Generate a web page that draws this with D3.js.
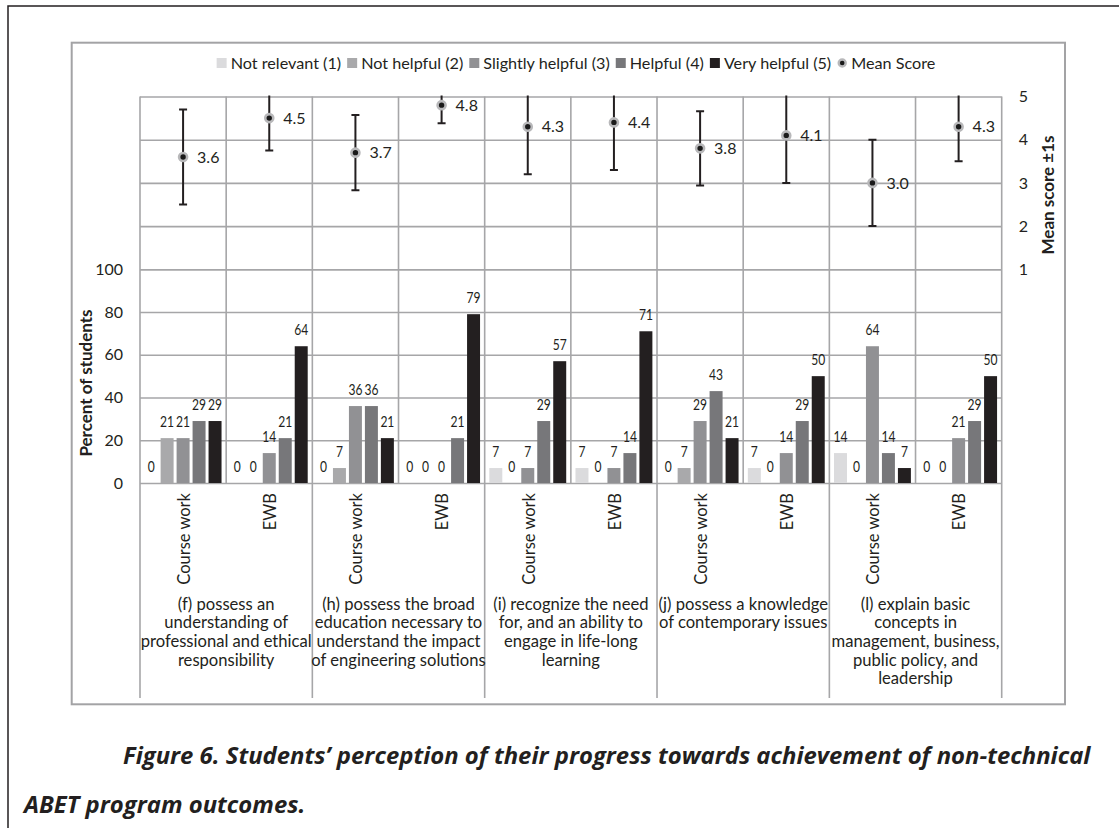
<!DOCTYPE html>
<html>
<head>
<meta charset="utf-8">
<script src="https://cdn.jsdelivr.net/npm/d3@7"></script>
<style>
  body { margin: 0; background: #fff; }
  svg text { font-family: Lato, "Open Sans", sans-serif; fill: #231f20; }
</style>
</head>
<body>
<div id="viz"></div>
<script>
// data
var outcomes = [
  ["(f) possess an", "understanding of", "professional and ethical", "responsibility"],
  ["(h) possess the broad", "education necessary to", "understand the impact", "of engineering solutions"],
  ["(i) recognize the need", "for, and an ability to", "engage in life-long", "learning"],
  ["(j) possess a knowledge", "of contemporary issues"],
  ["(l) explain basic", "concepts in", "management, business,", "public policy, and", "leadership"]
];
var sources = ["Course work", "EWB"];
var levels = ["Not relevant (1)", "Not helpful (2)", "Slightly helpful (3)", "Helpful (4)", "Very helpful (5)"];
var levelColours = ["#dbdbdd", "#a9a9ab", "#919194", "#77777a", "#231f20"];

// one value per category: f-CW, f-EWB, h-CW, h-EWB, i-CW, i-EWB, j-CW, j-EWB, l-CW, l-EWB
var notRelevant     = [0, 0, 0, 0, 7, 7, 0, 7, 14, 0];
var notHelpful      = [21, 0, 7, 0, 0, 0, 7, 0, 0, 0];
var slightlyHelpful = [21, 14, 36, 0, 7, 7, 29, 14, 64, 21];
var helpful         = [29, 21, 36, 21, 29, 14, 43, 29, 14, 29];
var veryHelpful     = [29, 64, 21, 79, 57, 71, 21, 50, 7, 50];
var meanScore = [3.6, 4.5, 3.7, 4.8, 4.3, 4.4, 3.8, 4.1, 3.0, 4.3];
var stdDev    = [1.1, 0.75, 0.87, 0.42, 1.1, 1.1, 0.86, 1.1, 1.0, 0.8];

var pctTicks = [0, 20, 40, 60, 80, 100];
var meanTicks = [1, 2, 3, 4, 5];

var series = [notRelevant, notHelpful, slightlyHelpful, helpful, veryHelpful];

// categories
var cats = [];
outcomes.forEach(function(o, oi) {
  sources.forEach(function(s, si) { cats.push({ idx: oi * 2 + si, outcome: oi, source: s }); });
});

var width = 1119, height = 828;
var plot = { left: 140, right: 1001.7, top: 96.5, zero: 483 };

var svg = d3.select("#viz").append("svg")
  .attr("width", width)
  .attr("height", height);

// frames
svg.append("path")
  .attr("d", "M8," + height + "V6H" + width)
  .attr("fill", "none")
  .attr("stroke", "#231f20")
  .attr("stroke-width", 1.5);
svg.append("rect")
  .attr("x", 71.7).attr("y", 42.7)
  .attr("width", 993.3).attr("height", 661.6)
  .attr("fill", "none")
  .attr("stroke", "#a3a3a5")
  .attr("stroke-width", 2);

// scales
var x0 = d3.scaleBand()
  .domain(cats.map(function(c) { return c.idx; }))
  .range([plot.left, plot.right]);
var x1 = d3.scaleBand()
  .domain(levels)
  .range([0, x0.bandwidth()])
  .paddingInner(0.1875)
  .paddingOuter(0.29);
var yPct = d3.scaleLinear().domain([0, 100]).range([plot.zero, 269.3]);
var yMean = d3.scaleLinear().domain([1, 5]).range([269.3, plot.top]);

var plotW = plot.right - plot.left;

// horizontal gridlines + axes
var gridColour = "#a6a6a8";
var leftAxis = svg.append("g")
  .attr("transform", "translate(" + plot.left + ",0)")
  .call(d3.axisLeft(yPct).tickValues(pctTicks).tickSizeInner(-plotW).tickSizeOuter(0).tickPadding(17));
var rightAxis = svg.append("g")
  .attr("transform", "translate(" + plot.right + ",0)")
  .call(d3.axisRight(yMean).tickValues(meanTicks).tickFormat(d3.format("d"))
    .tickSizeInner(-plotW).tickSizeOuter(0).tickPadding(17));
[leftAxis, rightAxis].forEach(function(ax) {
  ax.select(".domain").remove();
  ax.selectAll(".tick line").attr("stroke", gridColour).attr("stroke-width", 1.6);
  ax.selectAll(".tick text")
    .attr("fill", "#231f20")
    .style("font-family", "Lato, sans-serif")
    .style("font-size", "16px");
});

// vertical gridlines; group boundaries run down through the label area
var bounds = d3.range(cats.length + 1);
svg.append("g").selectAll("line")
  .data(bounds)
  .enter()
  .append("line")
  .attr("x1", function(i) { return i < cats.length ? x0(i) : plot.right; })
  .attr("x2", function(i) { return i < cats.length ? x0(i) : plot.right; })
  .attr("y1", plot.top)
  .attr("y2", function(i) { return i % 2 == 0 ? 698 : plot.zero; })
  .attr("stroke", gridColour)
  .attr("stroke-width", 1.6);

// bars
var barData = [];
cats.forEach(function(c) {
  series.forEach(function(s, li) {
    barData.push({ cat: c.idx, level: levels[li], colour: levelColours[li], value: s[c.idx] });
  });
});

var bars = svg.append("g").selectAll("g")
  .data(barData)
  .enter()
  .append("g");

bars.append("rect")
  .attr("x", function(d) { return x0(d.cat) + x1(d.level); })
  .attr("y", function(d) { return yPct(d.value); })
  .attr("width", x1.bandwidth())
  .attr("height", function(d) { return yPct(0) - yPct(d.value); })
  .attr("fill", function(d) { return d.colour; });

// value labels squeezed a little so neighbouring labels keep a gap
bars.append("text")
  .attr("x", function(d) { return x0(d.cat) + x1(d.level) + x1.bandwidth() / 2; })
  .attr("y", function(d) { return yPct(d.value) - 11; })
  .attr("text-anchor", "middle")
  .attr("textLength", function(d) { return String(d.value).length * 7; })
  .attr("lengthAdjust", "spacingAndGlyphs")
  .style("font-size", "15px")
  .text(function(d) { return d.value; });

// mean score with +-1s error bars
svg.append("defs").append("clipPath")
  .attr("id", "plotClip")
  .append("rect")
  .attr("x", plot.left).attr("y", plot.top - 1)
  .attr("width", plotW).attr("height", plot.zero - plot.top);

var cx = function(i) { return x0(i) + x0.bandwidth() / 2; };
var errs = svg.append("g").attr("clip-path", "url(#plotClip)");
cats.forEach(function(c) {
  var i = c.idx, lo = meanScore[i] - stdDev[i], hi = meanScore[i] + stdDev[i];
  errs.append("line")
    .attr("x1", cx(i)).attr("x2", cx(i))
    .attr("y1", yMean(lo)).attr("y2", yMean(hi))
    .attr("stroke", "#231f20").attr("stroke-width", 2);
  [lo, hi].forEach(function(v) {
    errs.append("line")
      .attr("x1", cx(i) - 4).attr("x2", cx(i) + 4)
      .attr("y1", yMean(v)).attr("y2", yMean(v))
      .attr("stroke", "#231f20").attr("stroke-width", 2);
  });
});

svg.append("g").selectAll("circle")
  .data(cats)
  .enter()
  .append("circle")
  .attr("cx", function(c) { return cx(c.idx); })
  .attr("cy", function(c) { return yMean(meanScore[c.idx]); })
  .attr("r", 4)
  .attr("fill", "#1a1a1a")
  .attr("stroke", "#b8b8ba")
  .attr("stroke-width", 2.6);

svg.append("g").selectAll("text")
  .data(cats)
  .enter()
  .append("text")
  .attr("x", function(c) { return cx(c.idx) + 14; })
  .attr("y", function(c) { return yMean(meanScore[c.idx]); })
  .attr("dy", "0.35em")
  .style("font-size", "16px")
  .text(function(c) { return d3.format(".1f")(meanScore[c.idx]); });

// category labels
svg.append("g").selectAll("text")
  .data(cats)
  .enter()
  .append("text")
  .attr("transform", function(c) { return "translate(" + (cx(c.idx) + 1) + ",493) rotate(-90)"; })
  .attr("text-anchor", "end")
  .attr("dy", "0.35em")
  .style("font-size", "16.5px")
  .text(function(c) { return c.source; });

var outLabels = svg.append("g").selectAll("text")
  .data(outcomes)
  .enter()
  .append("text")
  .attr("text-anchor", "middle")
  .style("font-size", "16.6px");
outLabels.selectAll("tspan")
  .data(function(lines, oi) { return lines.map(function(l) { return { text: l, oi: oi }; }); })
  .enter()
  .append("tspan")
  .attr("x", function(d) { return x0(d.oi * 2 + 1); })
  .attr("y", function(d, li) { return 604 + li * 18.6; })
  .attr("dy", "0.35em")
  .text(function(d) { return d.text; });

// axis titles
svg.append("text")
  .attr("transform", "translate(86,383) rotate(-90)")
  .attr("text-anchor", "middle")
  .attr("dy", "0.35em")
  .style("font-size", "17px")
  .style("font-weight", "bold")
  .text("Percent of students");
svg.append("text")
  .attr("transform", "translate(1048,195) rotate(-90)")
  .attr("text-anchor", "middle")
  .attr("dy", "0.35em")
  .style("font-size", "17px")
  .style("font-weight", "bold")
  .text("Mean score \u00b11s");

// legend
var legendItems = levels.concat(["Mean Score"]);
var legend = svg.append("g");
var items = legend.selectAll("g")
  .data(legendItems)
  .enter()
  .append("g");
items.append("text")
  .attr("x", 14)
  .attr("dy", "0.35em")
  .style("font-size", "16.2px")
  .text(function(d) { return d; });
items.each(function(d, i) {
  var g = d3.select(this);
  if (i < levels.length) {
    g.append("rect").attr("x", 0).attr("y", -5).attr("width", 10).attr("height", 10)
      .attr("fill", levelColours[i]);
  } else {
    g.append("circle").attr("cx", 5).attr("cy", 0).attr("r", 3.5)
      .attr("fill", "#1a1a1a").attr("stroke", "#b8b8ba").attr("stroke-width", 2.4);
  }
});
var lx = 0, offsets = [];
items.each(function(d, i) {
  var w = 14 + d3.select(this).select("text").node().getComputedTextLength();
  offsets.push(lx);
  lx += w + 6;
});
var legendStart = 576 - (lx - 6) / 2;
items.attr("transform", function(d, i) { return "translate(" + (legendStart + offsets[i]) + ",63)"; });

// caption
var cap1 = svg.append("text")
  .attr("x", 123).attr("y", 764)
  .style("font-family", "'Open Sans', sans-serif")
  .style("font-weight", "bold")
  .style("font-style", "italic")
  .style("font-size", "20px")
  .text("Figure 6. Students\u2019 perception of their progress towards achievement of non-technical");
var fs = 20 * 968 / cap1.node().getComputedTextLength();
cap1.style("font-size", fs + "px");
svg.append("text")
  .attr("x", 24).attr("y", 813)
  .style("font-family", "'Open Sans', sans-serif")
  .style("font-weight", "bold")
  .style("font-style", "italic")
  .style("font-size", fs + "px")
  .text("ABET program outcomes.");
</script>
</body>
</html>
